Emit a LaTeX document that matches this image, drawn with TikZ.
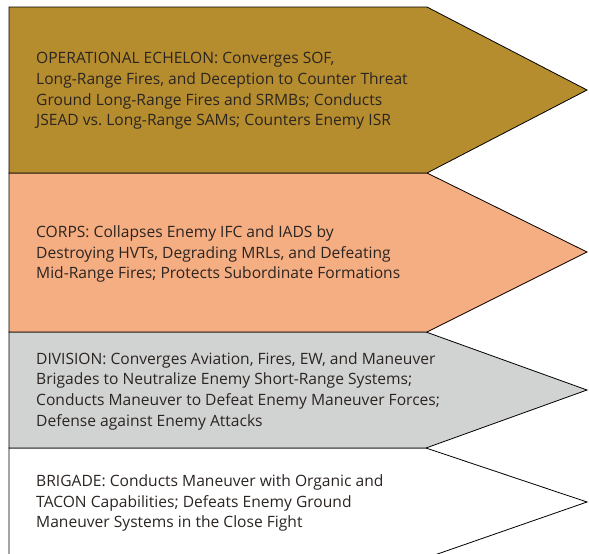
\documentclass[tikz,border=0pt]{standalone}
\usepackage{fontspec}
\setmainfont{Open Sans}
\frenchspacing
\definecolor{gold}{HTML}{B68D2E}
\definecolor{salmon}{HTML}{F5AD82}
\definecolor{grayfill}{HTML}{D1D3D2}
\definecolor{txt}{HTML}{2B2522}
\begin{document}
\begin{tikzpicture}[x=1pt,y=-1pt,
  box/.style={draw=black, line width=0.8pt, line join=miter},
  lbl/.style={anchor=west, align=left, text=txt, font=\fontsize{15.6}{20.7}\selectfont, inner sep=0pt}]
\useasboundingbox (0,0) rectangle (589,554);
\fill[white] (0,0) rectangle (589,554);
\begin{scope}
\clip (0,0) rectangle (589,554);
\path[box, fill=white] (9,448) -- (426,448) -- (587,502) -- (426,558) -- (9,558) -- cycle;
\path[box, fill=grayfill] (9,332) -- (426,332) -- (587,390) -- (426,448) -- (9,448) -- cycle;
\path[box, fill=salmon] (9,173) -- (427,173) -- (587,252) -- (427,332) -- (9,332) -- cycle;
\path[box, fill=gold] (9,7) -- (427,7) -- (587,90) -- (427,173) -- (9,173) -- cycle;
\end{scope}
\node[lbl] (op) at (36,91) {OPERATIONAL ECHELON: Converges SOF,\\Long-Range Fires, and Deception to Counter Threat\\Ground Long-Range Fires and SRMBs; Conducts\\JSEAD vs.\ Long-Range SAMs; Counters Enemy ISR};
\node[lbl] (corps) at (36,254) {CORPS: Collapses Enemy IFC and IADS by\\Destroying HVTs, Degrading MRLs, and Defeating\\Mid-Range Fires; Protects Subordinate Formations};
\node[lbl] (div) at (36,391) {DIVISION: Converges Aviation, Fires, EW, and Maneuver\\Brigades to Neutralize Enemy Short-Range Systems;\\Conducts Maneuver to Defeat Enemy Maneuver Forces;\\Defense against Enemy Attacks};
\node[lbl] (bde) at (36,503) {BRIGADE: Conducts Maneuver with Organic and\\TACON Capabilities; Defeats Enemy Ground\\Maneuver Systems in the Close Fight};
\end{tikzpicture}
\end{document}
